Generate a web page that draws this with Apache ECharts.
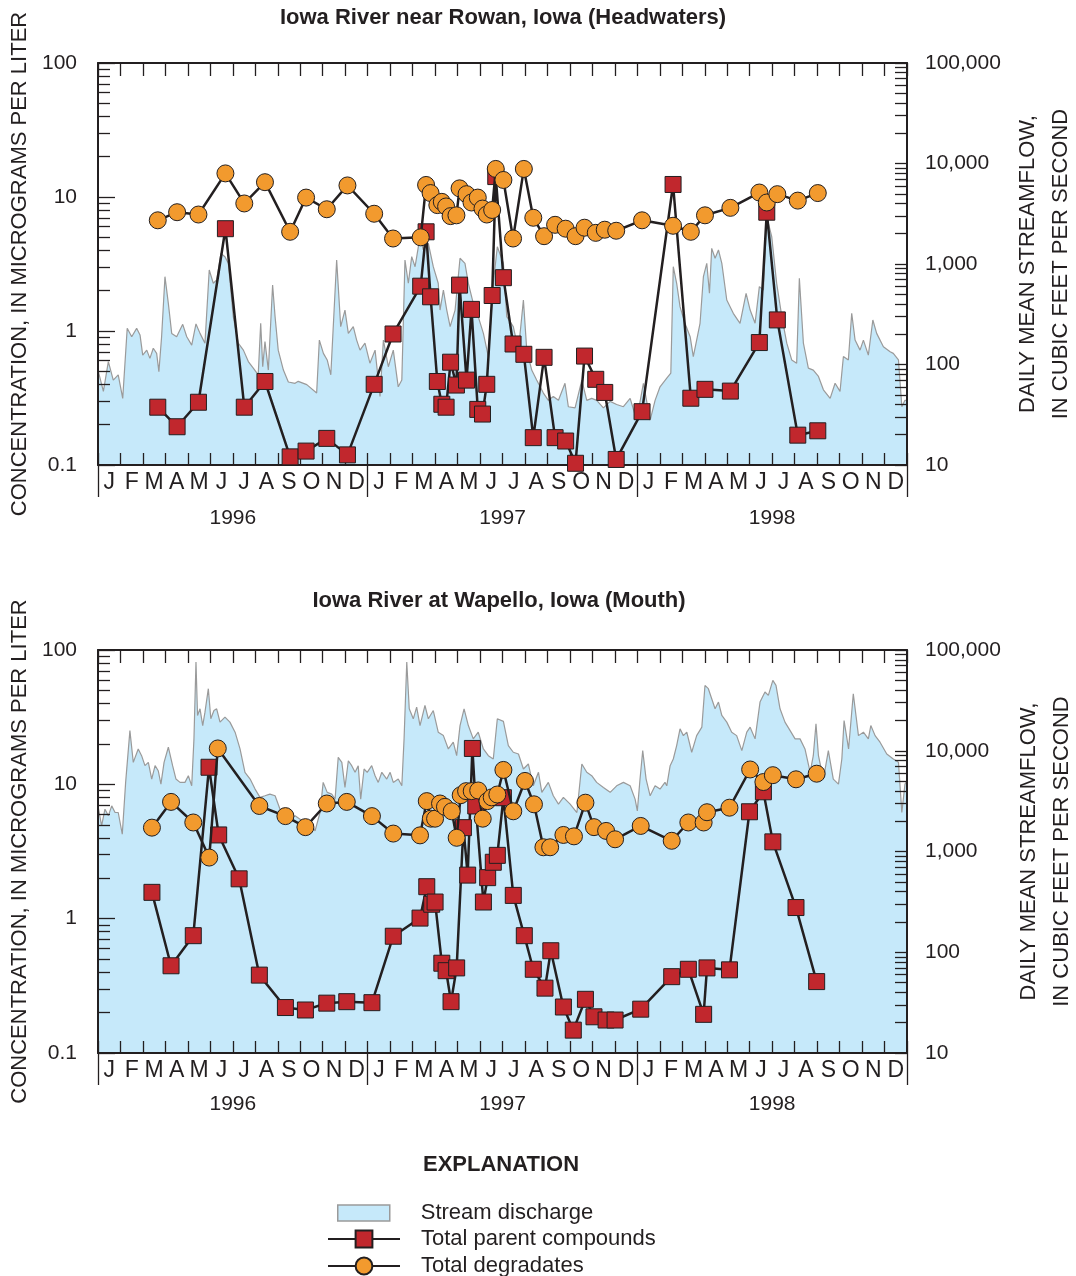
<!DOCTYPE html>
<html>
<head>
<meta charset="utf-8">
<script src="https://cdn.jsdelivr.net/npm/echarts@6/dist/echarts.min.js"></script>
<style>
  html, body { margin: 0; padding: 0; background: #ffffff; overflow: hidden; }
  #chart { width: 1076px; height: 1276px; }
</style>
</head>
<body>
<div id="chart"></div>
<script>
// ---------------- DATA ----------------
const monthLetters = ['J','F','M','A','M','J','J','A','S','O','N','D'];
const years = ['1996', '1997', '1998'];

// x values are months since 1 January 1996
// Iowa River near Rowan (headwaters)
const rowanSampleMonths = [2.66,3.52,4.47,5.67,6.51,7.43,8.55,9.26,10.18,11.1,
  12.29,13.13,14.36,14.6,14.8,15.1,15.3,15.49,15.69,15.95,
  16.09,16.4,16.62,16.9,17.11,17.3,17.54,17.7,18.04,18.47,
  18.95,19.37,19.85,20.34,20.81,21.25,21.65,22.15,22.55,23.06,
  24.21,25.59,26.38,27.01,28.14,29.43,29.76,30.23,31.14,32.03];
const rowanParent = [0.27,0.193,0.294,5.8,0.27,0.42,0.115,0.127,0.158,0.119,
  0.40,0.95,2.16,5.5,1.8,0.42,0.284,0.27,0.585,0.395,
  2.2,0.43,1.45,0.26,0.24,0.40,1.84,14.2,2.5,0.80,
  0.67,0.16,0.636,0.16,0.151,0.103,0.65,0.436,0.348,0.11,
  0.25,12.4,0.315,0.367,0.356,0.82,7.7,1.21,0.167,0.18];
const rowanDegradates = [6.7,7.7,7.4,15.0,8.95,12.9,5.5,9.9,8.1,12.2,
  7.5,4.9,5.0,12.3,10.7,8.7,9.2,8.5,7.2,7.3,
  11.6,10.5,9.1,9.9,8.2,7.4,8.0,16.2,13.4,4.9,
  16.2,7.0,5.1,6.2,5.8,5.1,5.9,5.4,5.7,5.6,
  6.7,6.1,5.5,7.3,8.3,10.8,9.1,10.5,9.4,10.7];
const rowanFlowMonths = [0,0.24,0.46,0.68,0.90,1.10,1.30,1.50,1.72,1.87,
  1.99,2.17,2.31,2.46,2.61,2.71,2.83,2.98,3.13,3.28,
  3.50,3.77,3.95,4.17,4.36,4.54,4.76,4.95,5.13,5.28,
  5.47,5.65,5.80,6.02,6.24,6.47,6.69,6.91,7.13,7.24,
  7.33,7.43,7.58,7.77,7.88,8.02,8.25,8.47,8.77,8.91,
  9.29,9.73,9.85,10.03,10.20,10.36,10.62,10.80,10.99,11.14,
  11.36,11.51,11.66,11.88,12.10,12.33,12.55,12.70,12.92,13.14,
  13.36,13.52,13.66,13.81,13.96,14.11,14.33,14.48,14.70,14.92,
  15.14,15.22,15.37,15.52,15.67,15.89,16.11,16.33,16.48,16.70,
  16.92,17.15,17.37,17.59,17.77,18.04,18.19,18.48,18.71,18.93,
  19.08,19.30,19.52,19.82,20.04,20.26,20.49,20.78,20.93,21.23,
  21.53,21.75,21.97,22.19,22.49,22.79,23.08,23.38,23.68,23.97,
  24.27,24.57,24.79,25.01,25.31,25.49,25.60,25.75,25.90,26.12,
  26.35,26.49,26.64,26.79,26.94,27.09,27.21,27.31,27.46,27.61,
  27.76,27.98,28.27,28.57,28.84,29.02,29.24,29.43,29.61,29.76,
  29.98,30.20,30.43,30.65,30.87,31.09,31.21,31.39,31.61,31.83,
  32.06,32.28,32.58,32.80,33.02,33.17,33.39,33.54,33.69,33.91,
  34.06,34.28,34.48,34.65,34.95,35.25,35.39,35.62,35.77,35.91,36];
const rowanFlow = [88,54,107,70,79,46,229,189,229,197,
  124,139,115,145,129,85,189,748,406,204,
  189,251,189,156,253,204,163,871,643,693,
  1276,1183,1016,299,163,139,107,92,79,257,
  95,169,88,618,299,139,88,67,65,68,
  63,52,175,129,111,79,1096,238,348,204,
  238,175,139,163,103,139,48,175,95,139,
  60,70,1096,643,1183,940,1870,1378,1607,940,
  643,348,551,348,238,348,1140,1016,643,406,
  299,204,120,643,1486,1016,299,238,139,438,
  139,88,70,52,44,48,44,65,38,37,
  70,44,46,44,37,43,40,38,46,28,
  65,28,44,60,73,82,940,643,376,257,
  189,120,175,257,748,1016,511,1432,1140,1378,
  1016,438,323,257,511,348,257,595,551,2958,
  1870,643,299,163,111,103,721,163,92,88,
  76,56,46,65,54,120,111,323,175,139,
  175,124,277,204,150,134,129,111,38,44,44];

// Iowa River at Wapello (mouth)
const wapelloParentMonths = [2.40,3.25,4.24,4.94,5.37,6.28,7.18,8.34,9.23,10.18,
  11.07,12.19,13.14,14.33,14.63,14.85,15.0,15.3,15.49,15.71,
  15.96,16.26,16.45,16.66,16.81,17.15,17.34,17.59,17.77,18.04,
  18.48,18.97,19.37,19.89,20.15,20.71,21.15,21.69,22.07,22.61,
  23.01,24.15,25.53,26.27,26.95,27.1,28.1,28.99,29.61,30.03,
  31.06,31.98];
const wapelloParent = [1.57,0.446,0.747,13.4,4.2,1.98,0.38,0.218,0.209,0.235,
  0.241,0.237,0.74,1.01,1.73,1.28,1.33,0.466,0.41,0.241,
  0.43,4.76,2.11,18.5,6.9,1.33,2.02,2.63,2.96,7.95,
  1.49,0.747,0.42,0.304,0.577,0.22,0.148,0.251,0.186,0.176,
  0.176,0.212,0.37,0.42,0.194,0.43,0.416,6.25,8.8,3.73,
  1.21,0.34];
const wapelloDegradateMonths = [2.40,3.25,4.24,4.95,5.33,7.18,8.34,9.23,10.18,11.07,
  12.19,13.14,14.33,14.63,14.81,15.0,15.22,15.44,15.74,15.96,
  16.14,16.38,16.63,16.92,17.12,17.33,17.52,17.77,18.04,18.48,
  19.0,19.40,19.82,20.12,20.71,21.18,21.69,22.07,22.61,23.01,
  24.15,25.53,26.27,26.95,27.1,28.1,29.02,29.61,30.03,31.06,
  31.98];
const wapelloDegradates = [4.76,7.4,5.2,2.85,18.5,6.9,5.8,4.8,7.2,7.4,
  5.8,4.3,4.17,7.5,5.55,5.55,7.2,6.8,6.3,4.0,
  8.3,8.9,8.9,9.0,5.55,7.5,8.0,8.4,12.8,6.3,
  10.6,7.1,3.4,3.4,4.2,4.1,7.3,4.8,4.5,3.9,
  4.9,3.8,5.2,5.2,6.2,6.7,12.9,10.4,11.7,10.9,
  12.0];
const wapelloFlowMonths = [0,0.16,0.31,0.46,0.61,0.76,0.90,1.08,1.23,1.42,
  1.57,1.79,1.94,2.09,2.24,2.39,2.54,2.68,2.80,2.94,
  3.13,3.32,3.47,3.65,3.87,4.02,4.17,4.27,4.36,4.43,
  4.54,4.66,4.76,4.91,5.02,5.16,5.28,5.43,5.65,5.87,
  6.10,6.32,6.54,6.77,6.99,7.21,7.43,7.65,7.88,8.10,
  8.32,8.54,8.77,8.99,9.21,9.43,9.66,9.88,10.02,10.20,
  10.40,10.55,10.69,10.85,10.99,11.14,11.29,11.44,11.58,11.69,
  11.84,11.98,12.18,12.33,12.47,12.63,12.85,13.00,13.14,13.36,
  13.52,13.62,13.74,13.85,14.03,14.18,14.33,14.55,14.70,14.92,
  15.14,15.37,15.59,15.81,15.96,16.11,16.29,16.48,16.70,16.92,
  17.15,17.37,17.59,17.77,18.04,18.26,18.48,18.71,18.93,19.15,
  19.37,19.60,19.75,20.04,20.26,20.49,20.71,21.01,21.31,21.53,
  21.75,21.97,22.19,22.49,22.79,23.08,23.38,23.68,23.90,24.00,
  24.12,24.24,24.39,24.57,24.79,25.01,25.23,25.31,25.46,25.60,
  25.75,25.90,26.05,26.20,26.42,26.64,26.87,27.01,27.16,27.31,
  27.46,27.61,27.76,27.98,28.20,28.42,28.65,28.87,29.02,29.24,
  29.46,29.68,29.83,30.03,30.17,30.35,30.57,30.80,31.02,31.24,
  31.46,31.69,31.83,31.95,32.06,32.28,32.50,32.72,32.95,33.10,
  33.20,33.40,33.61,33.84,34.06,34.28,34.39,34.58,34.80,35.10,
  35.39,35.62,35.77,35.91,36];
const wapelloFlow = [2838,1795,2630,2259,2838,2438,2438,1483,4853,15850,
  7674,10420,8935,7110,7674,5236,7110,6339,4667,7674,
  10840,7110,5236,4853,4853,5650,4487,13120,76000,22390,
  26080,17780,24170,41300,20750,25060,26080,19230,21580,19230,
  15280,10420,6109,5236,4165,3443,3573,3716,3573,2630,
  2438,2094,2259,2094,1866,2014,1600,2438,4853,3864,
  3716,3311,8610,7674,4325,7962,7110,6109,7110,3311,
  6590,6109,7110,5650,4853,6109,5236,6109,4853,5236,
  4487,13120,76000,26080,20750,27100,17780,28140,20750,25060,
  15280,14130,10420,12160,8935,17780,26080,17780,13120,15280,
  10420,8935,8280,20750,19590,11250,9660,9290,6590,7390,
  4487,6109,3864,4853,3573,2951,3443,2951,2438,7390,
  6109,5650,4853,4325,3864,4487,4853,4487,3311,2531,
  5236,10020,5236,3573,4487,4165,4853,4487,7110,8280,
  11250,16480,14130,15280,9660,14130,17140,44500,41300,32830,
  26080,30400,22390,19230,15280,14130,10020,15280,17140,13120,
  30400,38280,35400,49890,44500,26080,19230,15850,13120,13120,
  10420,6109,8935,18490,8935,5236,10020,5236,4667,8280,
  19950,10420,36810,14130,15280,13120,17780,14130,12160,9290,
  8280,7674,2438,4667,5000];

// Axis tick labels / ranges
const concDecades = [0.1, 1, 10, 100];
const flowDecades = [10, 100, 1000, 10000, 100000];
const panelTitles = ['Iowa River near Rowan, Iowa (Headwaters)', 'Iowa River at Wapello, Iowa (Mouth)'];
const seriesNames = ['Stream discharge', 'Total parent compounds', 'Total degradates'];

// ---------------- STYLE ----------------
const INK = '#231f20';
const FONT = 'Liberation Sans, Arial, sans-serif';
const RED = '#c1272d';
const ORANGE = '#f29a2e';
const BLUE = '#c6e9fa';
const GRAYLINE = '#9a9a9a';

function zip(xs, ys) {
  const n = Math.min(xs.length, ys.length);
  const out = [];
  for (let i = 0; i < n; i++) out.push([xs[i], ys[i]]);
  return out;
}
function minorTicks(decades) {
  const out = [];
  for (let d = 0; d < decades.length - 1; d++) {
    for (let k = 2; k <= 9; k++) out.push(Math.log10(decades[d] * k));
  }
  return out;
}

const monthLabels = [];
years.forEach(() => monthLetters.forEach(m => monthLabels.push(m)));

const panels = [
  { top: 63, height: 402, parent: zip(rowanSampleMonths, rowanParent),
    degr: zip(rowanSampleMonths, rowanDegradates), flow: zip(rowanFlowMonths, rowanFlow), rightGap: 100, yearMargin: 43 },
  { top: 650, height: 403, parent: zip(wapelloParentMonths, wapelloParent),
    degr: zip(wapelloDegradateMonths, wapelloDegradates), flow: zip(wapelloFlowMonths, wapelloFlow), rightGap: 105, yearMargin: 41 }
];

const grid = [], xAxis = [], yAxis = [], series = [];
panels.forEach((p, gi) => {
  grid.push({ left: 98, width: 809, top: p.top, height: p.height, show: false,
    containLabel: false, outerBoundsMode: 'none' });
  const tickStyle = { color: INK, width: 1.3 };
  // x axes
  xAxis.push({ type: 'value', gridIndex: gi, position: 'bottom', min: 0, max: 36, interval: 1, z: 2,
    axisLine: { show: true, onZero: false, lineStyle: { color: INK, width: 2 } },
    axisTick: { show: true, inside: true, length: 12, lineStyle: tickStyle },
    axisLabel: { show: false }, splitLine: { show: false } });
  xAxis.push({ type: 'value', gridIndex: gi, position: 'top', min: 0, max: 36, interval: 1, z: 2,
    axisLine: { show: true, onZero: false, lineStyle: { color: INK, width: 2 } },
    axisTick: { show: true, inside: true, length: 13, lineStyle: tickStyle },
    axisLabel: { show: false }, splitLine: { show: false } });
  xAxis.push({ type: 'category', gridIndex: gi, position: 'bottom', data: monthLabels, boundaryGap: true, z: 2,
    axisLine: { show: false, onZero: false }, axisTick: { show: false },
    axisLabel: { interval: 0, margin: 6, fontSize: 23, color: INK, fontFamily: FONT }, splitLine: { show: false } });
  xAxis.push({ type: 'category', gridIndex: gi, position: 'bottom', data: years, boundaryGap: true, z: 2,
    axisLine: { show: false, onZero: false },
    axisTick: { show: true, inside: false, length: 32, interval: 0, lineStyle: tickStyle },
    axisLabel: { interval: 0, margin: p.yearMargin, fontSize: 21, color: INK, fontFamily: FONT }, splitLine: { show: false } });
  // y axes
  yAxis.push({ type: 'log', logBase: 10, gridIndex: gi, position: 'left', min: concDecades[0], max: concDecades[concDecades.length - 1], z: 2,
    axisLine: { show: true, onZero: false, lineStyle: { color: INK, width: 2 } },
    axisTick: { show: true, inside: true, length: 17, lineStyle: tickStyle },
    axisLabel: { margin: 21, fontSize: 21, color: INK, fontFamily: FONT, formatter: v => String(v) },
    splitLine: { show: false },
    name: 'CONCENTRATION, IN MICROGRAMS PER LITER', nameLocation: 'middle', nameRotate: 90, nameGap: 57,
    nameTextStyle: { fontSize: 22, color: INK, fontFamily: FONT } });
  yAxis.push({ type: 'log', logBase: 10, gridIndex: gi, position: 'right', min: flowDecades[0], max: flowDecades[flowDecades.length - 1], z: 2,
    axisLine: { show: true, onZero: false, lineStyle: { color: INK, width: 2 } },
    axisTick: { show: true, inside: true, length: 12, lineStyle: tickStyle },
    axisLabel: { margin: 18, fontSize: 21, color: INK, fontFamily: FONT, formatter: v => Number(v).toLocaleString('en-US') },
    splitLine: { show: false },
    name: 'DAILY MEAN STREAMFLOW,\nIN CUBIC FEET PER SECOND', nameLocation: 'middle', nameRotate: 90, nameGap: p.rightGap,
    nameTextStyle: { fontSize: 22, lineHeight: 33, color: INK, fontFamily: FONT } });
  yAxis.push({ type: 'value', gridIndex: gi, position: 'left', min: Math.log10(concDecades[0]), max: Math.log10(concDecades[concDecades.length - 1]), z: 2,
    axisLine: { show: false, onZero: false },
    axisTick: { show: true, inside: true, length: 12, lineStyle: tickStyle, customValues: minorTicks(concDecades) },
    axisLabel: { show: false }, splitLine: { show: false } });
  yAxis.push({ type: 'value', gridIndex: gi, position: 'right', min: Math.log10(flowDecades[0]), max: Math.log10(flowDecades[flowDecades.length - 1]), z: 2,
    axisLine: { show: false, onZero: false },
    axisTick: { show: true, inside: true, length: 12, lineStyle: tickStyle, customValues: minorTicks(flowDecades) },
    axisLabel: { show: false }, splitLine: { show: false } });

  series.push({ name: seriesNames[0], type: 'line', xAxisIndex: gi * 4, yAxisIndex: gi * 4 + 1, data: p.flow,
    symbol: 'none', z: 1, silent: true,
    lineStyle: { color: GRAYLINE, width: 1.2 }, itemStyle: { color: BLUE },
    areaStyle: { color: BLUE, opacity: 1, origin: 'start' } });
  series.push({ name: seriesNames[1], type: 'line', xAxisIndex: gi * 4, yAxisIndex: gi * 4, data: p.parent,
    symbol: 'rect', symbolSize: 16, z: 3,
    lineStyle: { color: INK, width: 2.5 },
    itemStyle: { color: RED, borderColor: INK, borderWidth: 1 } });
  series.push({ name: seriesNames[2], type: 'line', xAxisIndex: gi * 4, yAxisIndex: gi * 4, data: p.degr,
    symbol: 'circle', symbolSize: 17, z: 4,
    lineStyle: { color: INK, width: 2.5 },
    itemStyle: { color: ORANGE, borderColor: INK, borderWidth: 1 } });
});

const option = {
  animation: false,
  backgroundColor: '#ffffff',
  textStyle: { fontFamily: FONT, color: INK },
  title: [
    { text: panelTitles[0], left: 503, top: 7, textAlign: 'center', padding: 0,
      textStyle: { fontSize: 22, fontWeight: 'bold', color: INK, fontFamily: FONT } },
    { text: panelTitles[1], left: 499, top: 590, textAlign: 'center', padding: 0,
      textStyle: { fontSize: 22, fontWeight: 'bold', color: INK, fontFamily: FONT } },
    { text: 'EXPLANATION', left: 501, top: 1154, textAlign: 'center', padding: 0,
      textStyle: { fontSize: 22, fontWeight: 'bold', color: INK, fontFamily: FONT } }
  ],
  legend: [
    { data: [{ name: seriesNames[0], icon: 'rect', itemStyle: { color: BLUE, borderColor: GRAYLINE, borderWidth: 1.5 } }],
      left: 337, top: 1202, itemWidth: 52, itemHeight: 16, selectedMode: false, padding: 0,
      textStyle: { fontSize: 22, color: INK, fontFamily: FONT, padding: [0, 0, 0, 26] } },
    { data: [seriesNames[1], seriesNames[2]], orient: 'vertical',
      left: 327, top: 1228, width: 400, height: 80, itemWidth: 72, itemHeight: 21, itemGap: 5, selectedMode: false, padding: 0,
      textStyle: { fontSize: 22, lineHeight: 21, color: INK, fontFamily: FONT, padding: [0, 0, 0, 16] } }
  ],
  grid, xAxis, yAxis, series
};

const chart = echarts.init(document.getElementById('chart'), null, { renderer: 'canvas' });
chart.setOption(option);
</script>
</body>
</html>
